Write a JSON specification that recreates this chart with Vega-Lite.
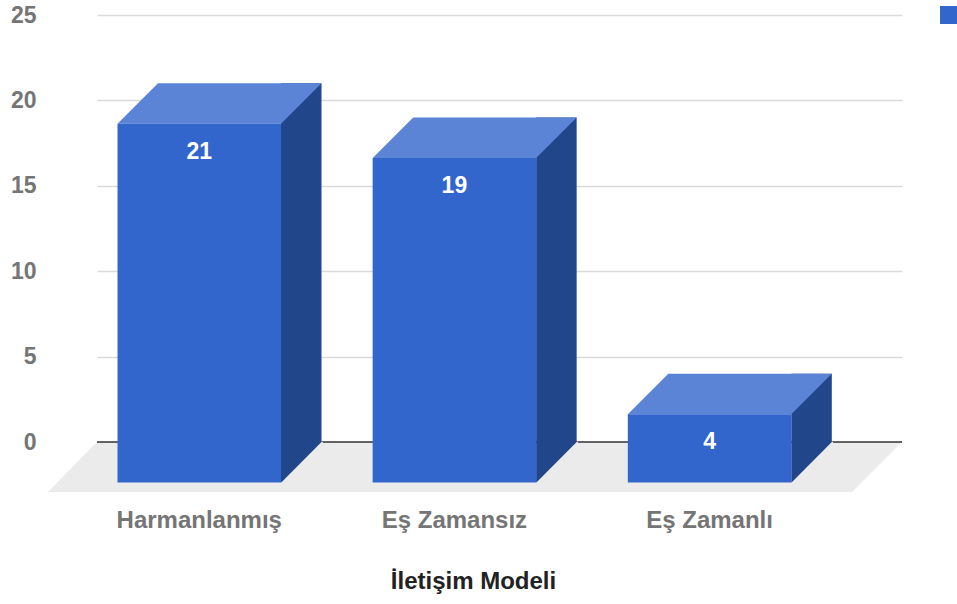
{
  "$schema": "https://vega.github.io/schema/vega-lite/v6.json",
  "width": 805,
  "height": 427,
  "autosize": {"type": "none"},
  "padding": {"left": 97, "top": 15, "right": 55, "bottom": 162},
  "background": "white",
  "config": {
    "view": {"stroke": null},
    "font": "Liberation Sans",
    "axisX": {"domain": false, "ticks": false, "tickSize": 0, "grid": false, "labelPadding": 85, "labelBaseline": "alphabetic", "labelOffset": -40.5, "labelAngle": 0, "labelFontSize": 24, "labelFontWeight": "bold", "labelColor": "#757575", "titleFontSize": 24, "titleFontWeight": "bold", "titleColor": "#222222", "titleX": 376, "titleY": 146, "titleBaseline": "alphabetic", "titleAlign": "center"},
    "axisY": {"domain": false, "ticks": false, "tickSize": 0, "labelPadding": 61, "labelFontSize": 23, "labelFontWeight": "bold", "labelColor": "#757575", "gridColor": "#d9d9d9", "gridWidth": 1.3}
  },
  "data": {"values": [
    {"model": "Harmanlanmış", "value": 21},
    {"model": "Eş Zamansız", "value": 19},
    {"model": "Eş Zamanlı", "value": 4}
  ]},
  "layer": [
    {
      "data": {"values": [{"model": "Eş Zamansız", "value": 0}]},
      "mark": {"type": "point", "shape": "M-398,0 L407,0 L357,50 L-447,50 Z", "size": 4, "filled": true, "fill": "#ebebeb", "opacity": 1, "strokeWidth": 0},
      "encoding": {
        "x": {"field": "model", "type": "nominal", "sort": null, "title": "İletişim Modeli",
          "scale": {"domain": ["Harmanlanmış", "Eş Zamansız", "Eş Zamanlı"], "paddingInner": 0.359, "paddingOuter": 0.257, "align": 0.465}},
        "y": {"field": "value", "type": "quantitative", "title": null,
          "scale": {"domain": [0, 25], "nice": false}, "axis": {"values": [0, 5, 10, 15, 20, 25]}}
      }
    },
    {
      "data": {"values": [{"value": 0}]},
      "mark": {"type": "rule", "color": "#333333", "strokeWidth": 1.3},
      "encoding": {
        "y": {"field": "value", "type": "quantitative", "title": null,
          "scale": {"domain": [0, 25], "nice": false}, "axis": {"values": [0, 5, 10, 15, 20, 25]}}
      }
    },
    {
      "mark": {"type": "bar", "width": 40.5, "xOffset": 61.5, "y2Offset": 40.5, "color": "#22468a"},
      "encoding": {
        "x": {"field": "model", "type": "nominal", "sort": null, "title": "İletişim Modeli",
          "scale": {"domain": ["Harmanlanmış", "Eş Zamansız", "Eş Zamanlı"], "paddingInner": 0.359, "paddingOuter": 0.257, "align": 0.465}},
        "y": {"field": "value", "type": "quantitative", "title": null,
          "scale": {"domain": [0, 25], "nice": false}, "axis": {"values": [0, 5, 10, 15, 20, 25]}},
        "y2": {"datum": 0}
      }
    },
    {
      "mark": {"type": "point", "shape": "M41,41 L83,41 L83,-0.3 L82,-0.3 Z", "size": 4, "filled": true, "fill": "#ebebeb", "opacity": 1, "strokeWidth": 0},
      "encoding": {
        "x": {"field": "model", "type": "nominal", "sort": null, "title": "İletişim Modeli",
          "scale": {"domain": ["Harmanlanmış", "Eş Zamansız", "Eş Zamanlı"], "paddingInner": 0.359, "paddingOuter": 0.257, "align": 0.465}},
        "y": {"datum": 0, "type": "quantitative", "title": null,
          "scale": {"domain": [0, 25], "nice": false}, "axis": {"values": [0, 5, 10, 15, 20, 25]}}
      }
    },
    {
      "mark": {"type": "point", "shape": "M-81.75,0 L81.75,0 L41.25,40.5 L-122.25,40.5 Z", "size": 4, "filled": true, "fill": "#5b84d6", "opacity": 1, "strokeWidth": 0},
      "encoding": {
        "x": {"field": "model", "type": "nominal", "sort": null, "title": "İletişim Modeli",
          "scale": {"domain": ["Harmanlanmış", "Eş Zamansız", "Eş Zamanlı"], "paddingInner": 0.359, "paddingOuter": 0.257, "align": 0.465}},
        "y": {"field": "value", "type": "quantitative", "title": null,
          "scale": {"domain": [0, 25], "nice": false}, "axis": {"values": [0, 5, 10, 15, 20, 25]}}
      }
    },
    {
      "mark": {"type": "bar", "width": 163.5, "xOffset": -40.5, "yOffset": 40.5, "y2Offset": 40.5},
      "encoding": {
        "x": {"field": "model", "type": "nominal", "sort": null, "title": "İletişim Modeli",
          "scale": {"domain": ["Harmanlanmış", "Eş Zamansız", "Eş Zamanlı"], "paddingInner": 0.359, "paddingOuter": 0.257, "align": 0.465}},
        "y": {"field": "value", "type": "quantitative", "title": null,
          "scale": {"domain": [0, 25], "nice": false}, "axis": {"values": [0, 5, 10, 15, 20, 25]}},
        "y2": {"datum": 0},
        "color": {"datum": "Sayı", "type": "nominal", "scale": {"range": ["#3366cc"]},
          "legend": {"title": null, "labels": false, "orient": "none", "legendX": 843, "legendY": -9, "symbolType": "square", "symbolSize": 324, "symbolStrokeWidth": 0, "padding": 0}}
      }
    },
    {
      "mark": {"type": "text", "dx": -40.5, "dy": 68.5, "fontSize": 23, "fontWeight": "bold", "color": "white", "baseline": "middle", "align": "center"},
      "encoding": {
        "x": {"field": "model", "type": "nominal", "sort": null, "title": "İletişim Modeli",
          "scale": {"domain": ["Harmanlanmış", "Eş Zamansız", "Eş Zamanlı"], "paddingInner": 0.359, "paddingOuter": 0.257, "align": 0.465}},
        "y": {"field": "value", "type": "quantitative", "title": null,
          "scale": {"domain": [0, 25], "nice": false}, "axis": {"values": [0, 5, 10, 15, 20, 25]}},
        "text": {"field": "value", "type": "quantitative"}
      }
    }
  ]
}
